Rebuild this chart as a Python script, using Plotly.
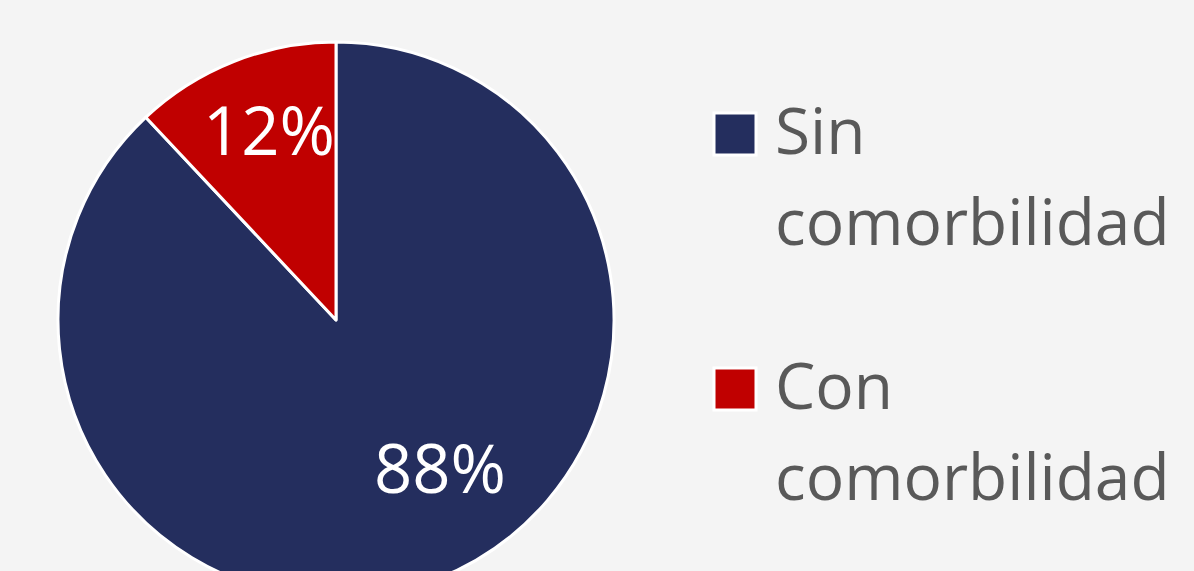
import plotly.graph_objects as go

# Proportion of patients with / without comorbidity
labels = ["Sin comorbilidad", "Con comorbilidad"]
values = [88, 12]
colors = ["#242e5e", "#c00000"]

W, H = 1194, 640          # canvas is taller than the view so the pie runs off the bottom
BG = "#f4f4f4"
FONT = "Open Sans"

# pie geometry in pixels (center and radius)
cx, cy, r = 336, 320, 278

# where each percentage label sits (pixel centers)
label_pos = [(440, 467), (269, 129)]


def px_x(x):
    return x / W


def px_y(y):
    return 1 - y / H


total = sum(values)
pct_text = [f"{round(v / total * 100)}%" for v in values]

fig = go.Figure(
    go.Pie(
        labels=labels,
        values=values,
        sort=False,
        direction="clockwise",
        rotation=0,
        marker=dict(colors=colors, line=dict(color="white", width=3)),
        textinfo="none",
        domain=dict(x=[px_x(cx - r), px_x(cx + r)], y=[px_y(cy + r), px_y(cy - r)]),
        showlegend=False,
        hoverinfo="label+percent",
    )
)

annotations = []
# percentage labels inside the slices
for txt, (lx, ly) in zip(pct_text, label_pos):
    annotations.append(dict(
        text=txt, xref="paper", yref="paper",
        x=px_x(lx), y=px_y(ly), xanchor="center", yanchor="middle",
        showarrow=False, font=dict(family=FONT, size=67, color="white"),
    ))

# Legend drawn as large squares with two-line labels
legend_tops = [113, 368]
line_gap = 90
sq = 42
shapes = []
for lab, col, top in zip(labels, colors, legend_tops):
    shapes.append(dict(
        type="rect", xref="paper", yref="paper",
        x0=px_x(714), x1=px_x(714 + sq), y0=px_y(top + sq), y1=px_y(top),
        fillcolor=col, line=dict(color="white", width=3),
    ))
    for i, word in enumerate(lab.split(" ")):
        annotations.append(dict(
            text=word, xref="paper", yref="paper",
            x=px_x(773), y=px_y(top + 16 + i * (line_gap + 1)),
            xanchor="left", yanchor="middle", showarrow=False,
            font=dict(family=FONT, size=64, color="#595959"),
        ))

fig.update_layout(
    width=W, height=H,
    margin=dict(l=0, r=0, t=0, b=0),
    paper_bgcolor=BG, plot_bgcolor=BG,
    shapes=shapes, annotations=annotations,
)

fig.write_html(
    "out.html",
    config={"displayModeBar": False},
    post_script="document.documentElement.style.overflow='hidden';document.body.style.overflow='hidden';document.body.style.margin='0';",
)
